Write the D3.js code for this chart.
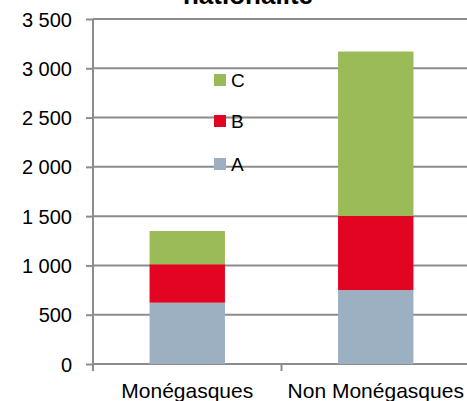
<!DOCTYPE html>
<html>
<head>
<meta charset="utf-8">
<script src="https://cdn.jsdelivr.net/npm/d3@7"></script>
<style>
  body { margin: 0; background: #fff; }
  text { font-family: "Liberation Sans", Arial, sans-serif; fill: #000; }
</style>
</head>
<body>
<div id="chart"></div>
<script>
const categories = ["Monégasques", "Non Monégasques"];
const seriesNames = ["A", "B", "C"];
const seriesA = [622, 750];
const seriesB = [390, 752];
const seriesC = [337, 1668];
const yTicks = [0, 500, 1000, 1500, 2000, 2500, 3000, 3500];
const colors = { A: "#9db0c2", B: "#e30421", C: "#9bbb59" };

const width = 467, height = 401;
const margin = { top: 19, right: -3, bottom: 37, left: 93 };
const innerW = width - margin.left - margin.right;
const innerH = height - margin.top - margin.bottom;

const svg = d3.select("#chart").append("svg")
  .attr("width", width)
  .attr("height", height);

const g = svg.append("g")
  .attr("transform", `translate(${margin.left},${margin.top})`);

const x = d3.scaleBand().domain(categories).range([0, innerW]).paddingInner(0.6).paddingOuter(0.3);
const y = d3.scaleLinear().domain([0, 3500]).range([innerH, 0]);

const fmt = v => d3.format(",")(v).replace(/,/g, " ");

// gridlines
g.append("g")
  .selectAll("line")
  .data(yTicks)
  .enter()
  .append("line")
  .attr("x1", 0)
  .attr("x2", innerW)
  .attr("y1", d => y(d))
  .attr("y2", d => y(d))
  .attr("stroke", "#8c8c8c")
  .attr("stroke-width", 2);

// stacked bars
const rows = categories.map((c, i) => ({ cat: c, A: seriesA[i], B: seriesB[i], C: seriesC[i] }));
const stacked = d3.stack().keys(seriesNames)(rows);

g.append("g")
  .selectAll("g")
  .data(stacked)
  .enter()
  .append("g")
  .attr("fill", d => colors[d.key])
  .selectAll("rect")
  .data(d => d)
  .enter()
  .append("rect")
  .attr("x", d => x(d.data.cat))
  .attr("width", x.bandwidth())
  .attr("y", d => y(d[1]))
  .attr("height", d => y(d[0]) - y(d[1]));

// y axis
const yAxis = g.append("g")
  .call(d3.axisLeft(y).tickValues(yTicks).tickFormat(fmt).tickSize(7).tickPadding(14));
yAxis.select(".domain").remove();
yAxis.selectAll(".tick line").attr("stroke", "#8c8c8c").attr("stroke-width", 2);
yAxis.selectAll(".tick text").attr("font-size", 20).attr("dy", "0.35em");
g.append("line")
  .attr("x1", 0).attr("x2", 0)
  .attr("y1", 0).attr("y2", innerH + 7)
  .attr("stroke", "#8c8c8c").attr("stroke-width", 2);

// x axis
const xAxis = g.append("g")
  .attr("transform", `translate(0,${innerH})`);
xAxis.append("line")
  .attr("x1", innerW / 2)
  .attr("x2", innerW / 2)
  .attr("y1", 0).attr("y2", 7)
  .attr("stroke", "#8c8c8c").attr("stroke-width", 2);
xAxis.selectAll("text")
  .data(categories)
  .enter()
  .append("text")
  .attr("x", d => x(d) + x.bandwidth() / 2)
  .attr("y", 34)
  .attr("text-anchor", "middle")
  .attr("font-size", 21)
  .text(d => d);

// legend
const legendY = d3.scaleOrdinal().domain(["C", "B", "A"]).range([74, 115, 158]);
const legend = svg.append("g").selectAll("g")
  .data(["C", "B", "A"])
  .enter()
  .append("g")
  .attr("transform", d => `translate(214,${legendY(d)})`);
legend.append("rect")
  .attr("width", 12).attr("height", 12)
  .attr("fill", d => colors[d]);
legend.append("text")
  .attr("x", 17).attr("y", 6)
  .attr("dy", "0.35em")
  .attr("font-size", 19)
  .text(d => d);

// title (cut off at top)
svg.append("text")
  .attr("x", 248).attr("y", 4)
  .attr("text-anchor", "middle")
  .attr("font-size", 26)
  .attr("font-weight", "bold")
  .text("nationalité");
</script>
</body>
</html>
